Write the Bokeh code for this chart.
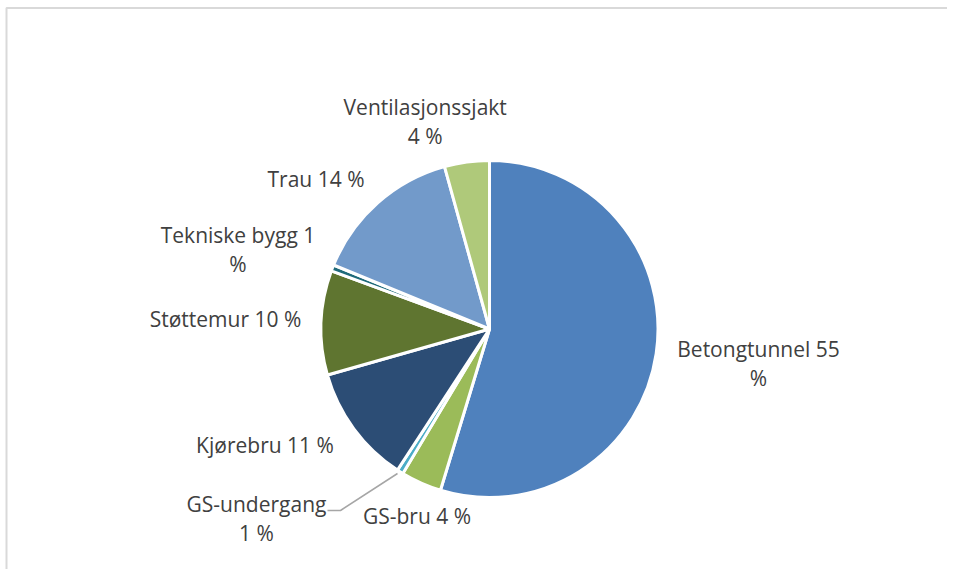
import math
from bokeh.plotting import figure
from bokeh.models import Range1d, ColumnDataSource
from bokeh.core.properties import value
from bokeh.embed import file_html
from bokeh.resources import INLINE

# ---- data ----
categories = ["Betongtunnel", "GS-bru", "GS-undergang", "Kjørebru",
              "Støttemur", "Tekniske bygg", "Trau", "Ventilasjonssjakt"]
shares = [54.7, 3.9, 0.6, 11.4, 10.0, 0.6, 14.5, 4.3]
label_pct = ["55 %", "4 %", "1 %", "11 %", "10 %", "1 %", "14 %", "4 %"]
colors = ["#4F81BD", "#9BBB59", "#4BACC6", "#2C4D75",
          "#5F7530", "#1F6A7A", "#729ACA", "#AFC97A"]

W, H = 947, 569
p = figure(width=W, height=H, output_backend="svg", toolbar_location=None,
           x_range=Range1d(0, W), y_range=Range1d(0, H),
           min_border=0, outline_line_color=None)
p.axis.visible = False
p.grid.visible = False
p.background_fill_color = "white"
p.border_fill_color = "white"

def sy(screen_y):
    return H - screen_y

# chart frame (left and top edges)
p.line(x=[6, 6, 960], y=[sy(600), sy(7.5), sy(7.5)], line_color="#D9D9D9", line_width=2)

cx, cy, r = 489, sy(328.5), 168.5
total = sum(shares)
starts, ends = [], []
cum = 0.0
for s in shares:
    starts.append(math.pi / 2 - 2 * math.pi * cum / total)
    cum += s
    ends.append(math.pi / 2 - 2 * math.pi * cum / total)

src = ColumnDataSource(dict(start=starts, end=ends, color=colors))
p.wedge(x=cx, y=cy, radius=r, start_angle="start", end_angle="end",
        direction="clock", fill_color="color", line_color="white",
        line_width=3, source=src)

# labels (layout positions: center x, first baseline y)
label_lines = [
    [f"{categories[0]} 55", "%"],
    [f"{categories[1]} {label_pct[1]}"],
    [categories[2], label_pct[2]],
    [f"{categories[3]} {label_pct[3]}"],
    [f"{categories[4]} {label_pct[4]}"],
    [f"{categories[5]} 1", "%"],
    [f"{categories[6]} {label_pct[6]}"],
    [categories[7], label_pct[7]],
]
label_pos = [(758, 355), (416.5, 522.5), (256, 510), (264.5, 451),
             (225, 325.5), (237.5, 241), (315.5, 185), (424.7, 113.3)]
shift = -7
lh = 29
xs, ys, ts = [], [], []
for lines, (lx, ly) in zip(label_lines, label_pos):
    for i, t in enumerate(lines):
        xs.append(lx)
        ys.append(sy(ly + shift + i * lh))
        ts.append(t)
p.text(x=xs, y=ys, text=ts, text_align="center", text_baseline="alphabetic",
       text_font=value("Open Sans"), text_font_size="21px", text_color="#404040")

# leader line for GS-undergang
p.line(x=[327, 340, 397], y=[sy(510), sy(510), sy(473)],
       line_color="#A6A6A6", line_width=1.5)

open("out.html", "w").write(file_html(p, INLINE))
